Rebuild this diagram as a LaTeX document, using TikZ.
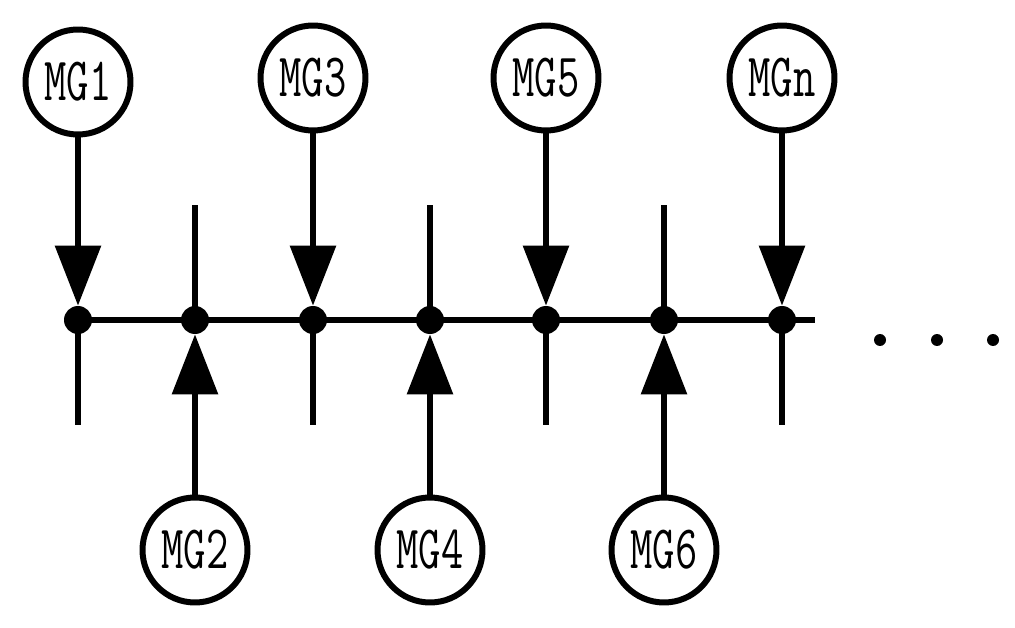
\documentclass[tikz,border=0pt]{standalone}
\usetikzlibrary{arrows.meta}
\begin{document}
\begin{tikzpicture}[x=0.02cm,y=-0.02cm,
  mg/.style={circle,draw,line width=0.12cm,minimum size=2.1cm,inner sep=0pt,font=\ttfamily\fontsize{26}{26}\selectfont},
  bdot/.style={circle,fill,minimum size=0.56cm,inner sep=0pt},
  ln/.style={line width=0.12cm},
  arr/.style={line width=0.12cm,-{Triangle[length=1.2cm,width=0.9cm]}}]
\useasboundingbox (0,0) rectangle (1015,628);
\newcommand{\mgtxt}[1]{\scalebox{0.95}[1.35]{#1}}
\draw[ln] (78,320) -- (815,320);
\foreach \i/\x in {1/78,2/195,3/313,4/430,5/546,6/664,7/782}{\node[bdot] (d\i) at (\x,320) {};}
\node[mg] (m1) at (78,82) {\mgtxt{MG1}};
\node[mg] (m3) at (313,78) {\mgtxt{MG3}};
\node[mg] (m5) at (546,78) {\mgtxt{MG5}};
\node[mg] (mn) at (782,78) {\mgtxt{MGn}};
\node[mg] (m2) at (195,550) {\mgtxt{MG2}};
\node[mg] (m4) at (430,550) {\mgtxt{MG4}};
\node[mg] (m6) at (664,550) {\mgtxt{MG6}};
\foreach \a/\b in {m1/d1,m3/d3,m5/d5,mn/d7}{
  \draw[arr] (\a) -- (\b.north);
  \coordinate (e\b) at ([yshift=-2.1cm]\b.center);
  \draw[ln] (\b.center) -- (e\b);}
\foreach \a/\b in {m2/d2,m4/d4,m6/d6}{
  \draw[arr] (\a) -- (\b.south);
  \coordinate (e\b) at ([yshift=2.3cm]\b.center);
  \draw[ln] (\b.center) -- (e\b);}
\foreach \i/\x in {1/880,2/937,3/993}{\node[circle,fill,minimum size=0.24cm,inner sep=0pt] (p\i) at (\x,340) {};}
\end{tikzpicture}
\end{document}
